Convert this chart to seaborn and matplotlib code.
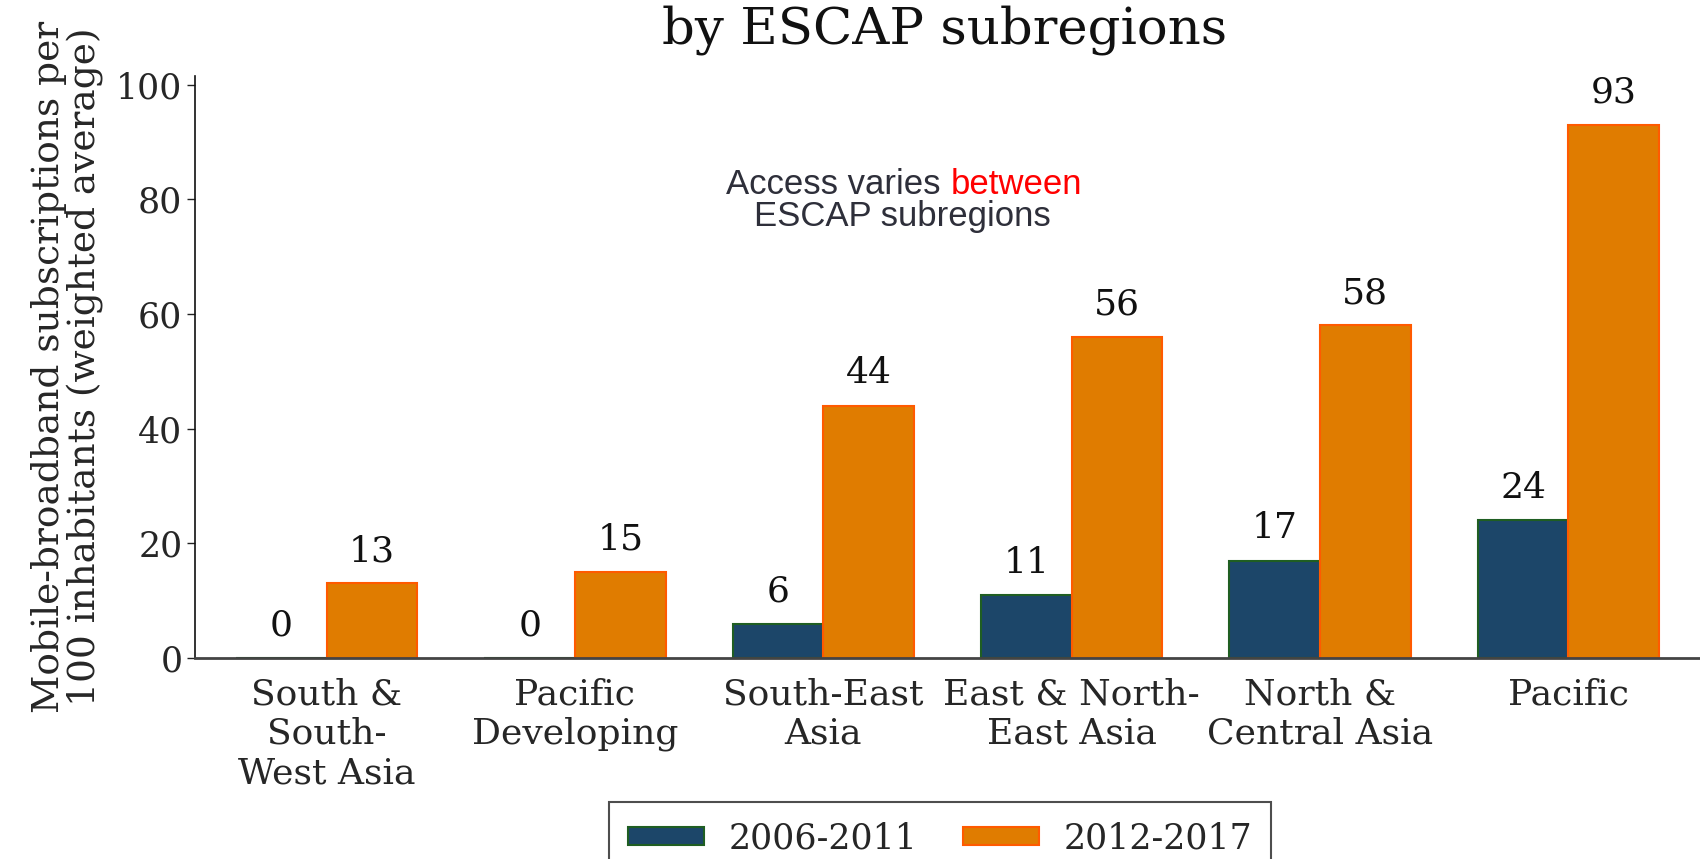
import matplotlib
matplotlib.use("Agg")
import matplotlib.pyplot as plt
import seaborn as sns
import pandas as pd

categories = ["South &\nSouth-\nWest Asia", "Pacific\nDeveloping", "South-East\nAsia",
              "East & North-\nEast Asia", "North &\nCentral Asia", "Pacific"]
period_labels = ["2006-2011", "2012-2017"]
values_2006_2011 = [0, 0, 6, 11, 17, 24]
values_2012_2017 = [13, 15, 44, 56, 58, 93]
yticks = [0, 20, 40, 60, 80, 100]

face_colors = ["#1c4669", "#e07c00"]
edge_colors = ["#1f5e22", "#ff5a00"]

df = pd.DataFrame({
    "region": categories * 2,
    "period": [period_labels[0]] * len(categories) + [period_labels[1]] * len(categories),
    "value": values_2006_2011 + values_2012_2017,
})

sns.set_style("white")
plt.rcParams["font.family"] = ["DejaVu Serif"]

FS = 25

fig = plt.figure(figsize=(17, 8.59), dpi=100)
ax = fig.add_axes([0.1147, 0.234, 0.8853, 0.6775])

sns.barplot(data=df, x="region", y="value", hue="period", order=categories,
            hue_order=period_labels, palette=face_colors, saturation=1,
            width=0.73, gap=0, ax=ax, legend=True)

for cont, ec, vals in zip(ax.containers, edge_colors, [values_2006_2011, values_2012_2017]):
    for bar in cont:
        bar.set_edgecolor(ec)
        bar.set_linewidth(1.5)
    ax.bar_label(cont, labels=[str(v) for v in vals], padding=11, fontsize=26,
                 color="#111111")

ax.set_xlim(-0.53, 5.53)
ax.set_ylim(0, 101.5)
ax.set_yticks(yticks)
ax.set_yticklabels([str(t) for t in yticks])
ax.tick_params(axis="y", labelsize=FS, length=6, width=1, direction="out", pad=3,
               left=True, color="#222222")
ax.tick_params(axis="x", labelsize=26, length=0, pad=14)
for lab in ax.get_xticklabels():
    lab.set_linespacing(1.2)
ax.set_xlabel("")
ax.set_ylabel("Mobile-broadband subscriptions per\n100 inhabitants (weighted average)",
              fontsize=27, labelpad=9, linespacing=1.0)

sns.despine(ax=ax, top=True, right=True)
ax.spines["left"].set_color("#111111")
ax.spines["left"].set_linewidth(1.2)
ax.spines["bottom"].set_color("#444444")
ax.spines["bottom"].set_linewidth(2)

fig.text(0.5555, 0.994, "by ESCAP subregions", fontsize=37, ha="center", va="top",
         color="#111111")

# annotation
sans = ["Liberation Sans", "DejaVu Sans"]
t1 = ax.text(0.353, 0.814, "Access varies ", transform=ax.transAxes, ha="left",
             va="center", fontsize=25, color="#2e2f3a", family=sans)
ax.annotate("between", xy=(1, 0), xycoords=t1, ha="left", va="bottom",
            fontsize=25, color="#ff0000", family=sans)
ax.text(0.470, 0.758, "ESCAP subregions", transform=ax.transAxes, ha="center",
        va="center", fontsize=25, color="#2e2f3a", family=sans)

leg = ax.legend(loc="upper center", bbox_to_anchor=(0.553, 0.066),
                bbox_transform=fig.transFigure, ncol=2, fontsize=25, frameon=True,
                fancybox=False, edgecolor="#222222", handlelength=2.2,
                handleheight=0.45, columnspacing=1.3, handletextpad=0.7,
                borderpad=0.55, borderaxespad=0)
leg.get_frame().set_linewidth(1.5)
for h, ec in zip(leg.legend_handles, edge_colors):
    h.set_edgecolor(ec)
    h.set_linewidth(1.5)

fig.savefig("out.png", dpi=100)
